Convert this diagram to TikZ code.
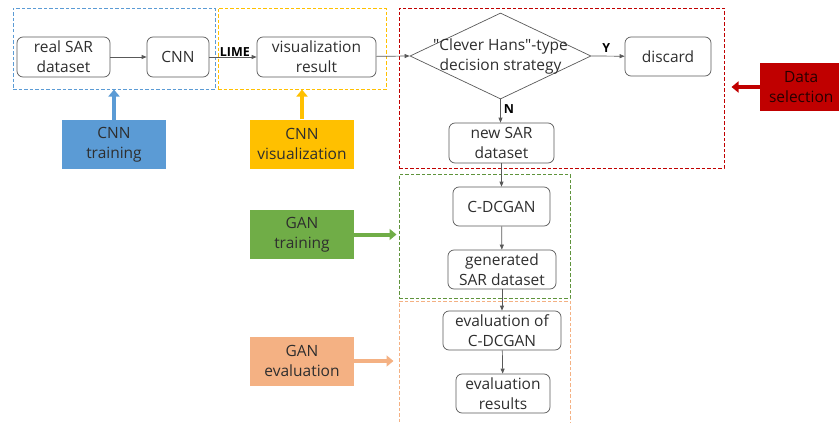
\documentclass[tikz,border=0pt]{standalone}
\usepackage{fontspec}
\setmainfont{Open Sans}
% same face without the TeX quote mapping, for straight double quotes
\newfontfamily\plainq{Open Sans}
\usetikzlibrary{shapes.geometric,arrows.meta}
\definecolor{txt}{HTML}{2E2E2E}
\definecolor{edge}{HTML}{595959}
\definecolor{cblue}{HTML}{5B9BD5}
\definecolor{cyellow}{HTML}{FFC000}
\definecolor{cred}{HTML}{C00000}
\definecolor{cgreen}{HTML}{70AD47}
\definecolor{corange}{HTML}{F4B183}
\tikzset{
  every node/.style={font=\fontsize{15.5}{20}\selectfont, text=txt},
  stepbox/.style={draw=edge, line width=0.7pt, rounded corners=6pt, align=center, inner sep=0pt},
  group/.style={draw=#1, line width=1pt, dash pattern=on 3.5pt off 2pt, inner sep=0pt},
  tag/.style={fill=#1, align=center, inner sep=0pt, minimum width=104pt, minimum height=49pt},
  flow/.style={draw=edge, line width=0.7pt, -{Triangle[length=5pt,width=4pt]}},
  blockarrow/.style={draw=#1, line width=4pt, -{Triangle[length=7pt,width=11pt]}},
  mark lbl/.style={font=\fontsize{12.5}{14}\bfseries\selectfont, text=black, inner sep=1pt}
}
\begin{document}
\begin{tikzpicture}[x=1pt,y=-1pt]
\useasboundingbox (0,0) rectangle (839,423);
% dashed groups
\node[group=cblue, minimum width=202pt, minimum height=81pt] (gtrain) at (114,48.5) {};
\node[group=cyellow, minimum width=168pt, minimum height=81pt] (gvis) at (302,48.5) {};
\node[group=cred, minimum width=325pt, minimum height=160pt] (gsel) at (561.5,88) {};
\node[group=cgreen!85!black, minimum width=171pt, minimum height=124pt] (ggan) at (484.5,236) {};
\node[group=corange, minimum width=171pt, minimum height=140pt] (geval) at (484.5,371) {};

% process steps
\node[stepbox, minimum width=93pt, minimum height=40pt] (real) at (63.5,57) {real SAR\\dataset};
\node[stepbox, minimum width=62pt, minimum height=40pt] (cnn) at (178,57) {CNN};
\node[stepbox, minimum width=119pt, minimum height=40pt] (vis) at (316.5,57) {visualization\\result};
\node[diamond, draw=edge, line width=0.7pt, minimum width=181pt, minimum height=86pt, inner sep=0pt,
      label={[align=center, text=txt]center:{\plainq "Clever Hans"-type}\\decision strategy}] (dec) at (500.5,56) {};
\node[stepbox, minimum width=86pt, minimum height=39pt] (disc) at (668,56.5) {discard};
\node[stepbox, minimum width=105pt, minimum height=40pt] (newsar) at (501.5,143) {new SAR\\dataset};
\node[stepbox, minimum width=97pt, minimum height=39pt] (cdcgan) at (501.5,206.5) {C-DCGAN};
\node[stepbox, minimum width=108pt, minimum height=39pt] (gen) at (502,269.5) {generated\\SAR dataset};
\node[stepbox, minimum width=118pt, minimum height=39pt] (evalof) at (502,330.5) {evaluation of\\C-DCGAN};
\node[stepbox, minimum width=94pt, minimum height=39pt] (evalres) at (503,393.5) {evaluation\\results};

% flow connectors
\draw[flow] (real) -- (cnn);
\draw[flow] (cnn) -- node[mark lbl, above, pos=0.54, yshift=-1pt] {LIME} (vis);
\draw[flow] (vis) -- (dec.west);
\draw[flow] (dec.east) -- node[mark lbl, above, pos=0.45, yshift=2pt] {Y} (disc);
\draw[flow] (dec.south) -- node[mark lbl, right, pos=0.4, xshift=2pt] {N} (newsar.north -| dec.south);
\draw[flow] (newsar) -- (cdcgan);
\draw[flow] (cdcgan) -- (gen);
\draw[flow] (gen) -- (evalof);
\draw[flow] (evalof) -- (evalres);

% stage tags
\node[tag=cblue] (tcnn) at (114,144.5) {CNN\\training};
\node[tag=cyellow] (tvis) at (302,144) {CNN\\visualization};
\node[tag=cred, minimum width=82pt, minimum height=48pt, anchor=west, text=black!80!cred] (tsel) at (760,87) {Data\\selection};
\node[tag=cgreen] (tgan) at (302,234.5) {GAN\\training};
\node[tag=corange] (teval) at (302,361) {GAN\\evaluation};

% stage arrows
\draw[blockarrow=cblue] (tcnn.north) -- (tcnn.north |- gtrain.south);
\draw[blockarrow=cyellow] (tvis.north) -- (tvis.north |- gvis.south);
\draw[blockarrow=cred] (tsel.west) -- ([xshift=7pt]tsel.west -| gsel.east);
\draw[blockarrow=cgreen] (tgan.east) -- ([xshift=-2pt]tgan.east -| ggan.west);
\draw[blockarrow=corange] (teval.east) -- ([xshift=-5pt]teval.east -| geval.west);
\end{tikzpicture}
\end{document}
